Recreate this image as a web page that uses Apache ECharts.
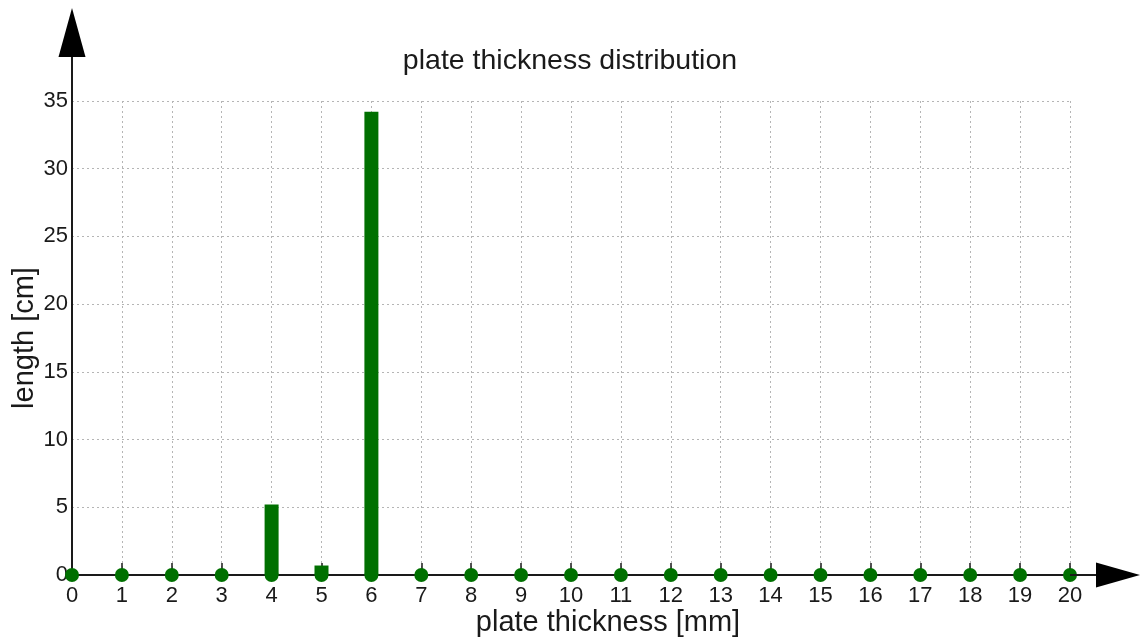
<!DOCTYPE html>
<html><head><meta charset="utf-8">
<script src="https://cdn.jsdelivr.net/npm/echarts@6/dist/echarts.min.js"></script>
<style>html,body{margin:0;padding:0;background:#fff}#c{width:1140px;height:638px}</style>
</head><body><div id="c"></div>
<script>
const thickness = [0,1,2,3,4,5,6,7,8,9,10,11,12,13,14,15,16,17,18,19,20];
const lengths   = [0,0,0,0,5.2,0.7,34.2,0,0,0,0,0,0,0,0,0,0,0,0,0,0];
const yTicks = [0,5,10,15,20,25,30,35];

const FONT = '"Liberation Sans", Arial, sans-serif';
const GREEN = '#007000';
const INK = '#1a1a1a';

const chart = echarts.init(document.getElementById('c'), null, {renderer:'canvas'});
const option = {
  animation:false,
  backgroundColor:'#fff',
  title:{text:'plate thickness distribution', left:'center', top:42,
    textStyle:{fontFamily:FONT, fontSize:28.5, fontWeight:'normal', color:INK}},
  grid:{left:72, right:70, top:101, bottom:63, containLabel:false, outerBoundsMode:'none'},
  xAxis:{type:'value', min:thickness[0], max:thickness[thickness.length-1], interval:1,
    name:'plate thickness [mm]', nameLocation:'middle', nameGap:33, nameMoveOverlap:false,
    nameTextStyle:{fontFamily:FONT, fontSize:29, color:INK, padding:[0,0,0,74]},
    axisLine:{show:true, onZero:false, lineStyle:{color:INK, width:2}},
    axisTick:{show:true, inside:true, length:12, lineStyle:{color:INK, width:1.5}},
    axisLabel:{fontFamily:FONT, fontSize:22, color:INK, margin:10},
    splitLine:{show:true, lineStyle:{color:'#b5b5b5', width:1, type:[2,3]}}},
  yAxis:{type:'value', min:yTicks[0], max:yTicks[yTicks.length-1], interval:5,
    name:'length [cm]', nameLocation:'middle', nameGap:33, nameRotate:90, nameMoveOverlap:false,
    nameTextStyle:{fontFamily:FONT, fontSize:29, color:INK},
    axisLine:{show:true, lineStyle:{color:INK, width:2}},
    axisTick:{show:false},
    axisLabel:{fontFamily:FONT, fontSize:22, color:INK, margin:4},
    splitLine:{show:true, lineStyle:{color:'#b5b5b5', width:1, type:[2,3]}}},
  series:[
    {type:'bar', data:thickness.map((t,i)=>[t, lengths[i]]), barWidth:14,
     itemStyle:{color:GREEN}, z:3},
    {type:'scatter', data:thickness.map(t=>[t, 0]), symbol:'circle', symbolSize:14,
     itemStyle:{color:GREEN, opacity:1}, z:4}
  ]
};
chart.setOption(option);

const pO = chart.convertToPixel({gridIndex:0}, [thickness[0], 0]);
const pTop = chart.convertToPixel({gridIndex:0}, [thickness[0], yTicks[yTicks.length-1]]);
const pRight = chart.convertToPixel({gridIndex:0}, [thickness[thickness.length-1], 0]);
chart.setOption({graphic:[
  {type:'line', shape:{x1:pO[0], y1:pTop[1], x2:pO[0], y2:56}, style:{stroke:INK, lineWidth:2}, z:10},
  {type:'polygon', shape:{points:[[pO[0]-13.5,57],[pO[0]+13.5,57],[pO[0],8]]}, style:{fill:'#000'}, z:10},
  {type:'line', shape:{x1:pRight[0], y1:pO[1], x2:1097, y2:pO[1]}, style:{stroke:INK, lineWidth:2}, z:10},
  {type:'polygon', shape:{points:[[1096,pO[1]-12.5],[1096,pO[1]+12.5],[1140,pO[1]]]}, style:{fill:'#000'}, z:10}
]});
</script></body></html>
